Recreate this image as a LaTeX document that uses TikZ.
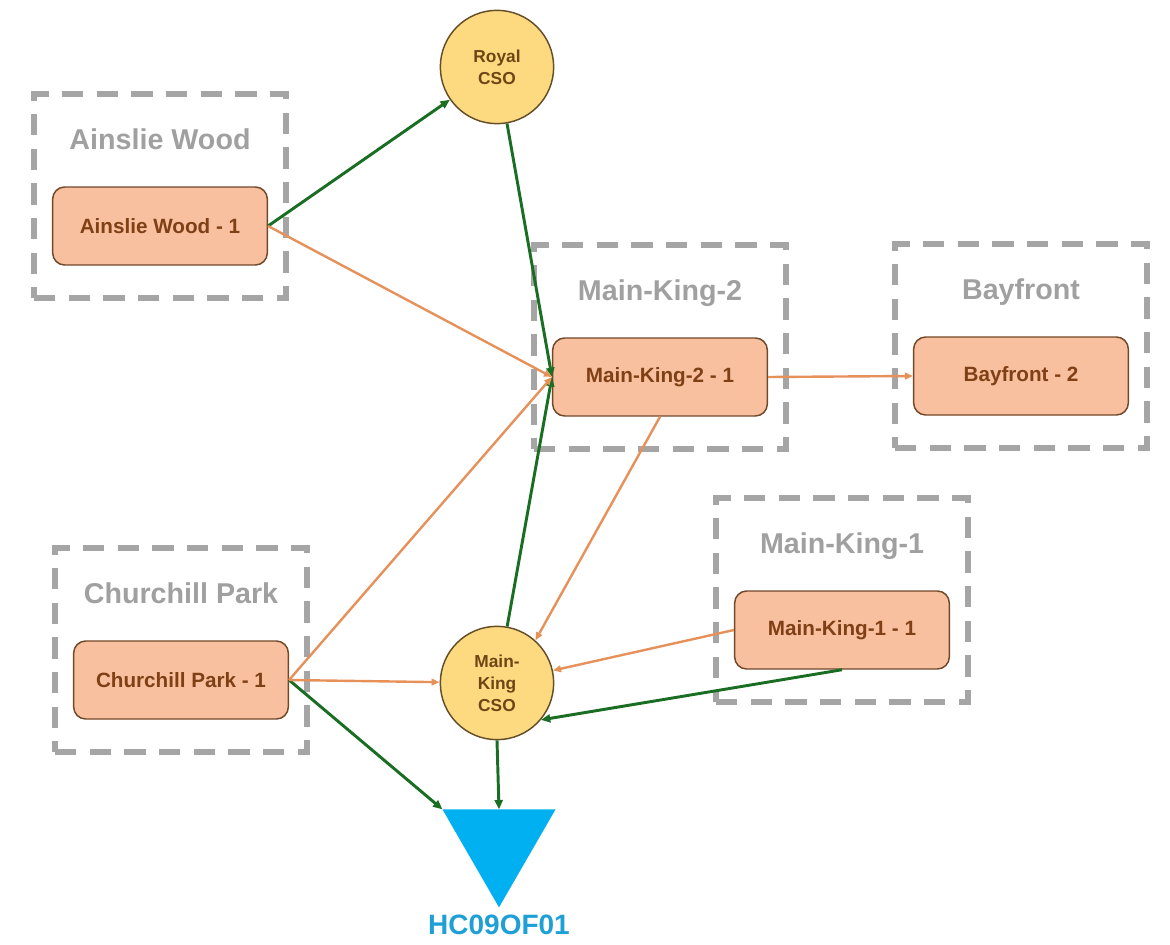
\documentclass[tikz,border=0pt]{standalone}
\usepackage{fontspec}
\setmainfont{Liberation Sans}
\usetikzlibrary{shapes}
\usetikzlibrary{positioning}
\usetikzlibrary{arrows.meta}
\definecolor{grpgray}{RGB}{165,165,165}
\definecolor{grptext}{RGB}{160,160,160}
\definecolor{sitefill}{RGB}{248,192,158}
\definecolor{siteline}{RGB}{112,72,42}
\definecolor{sitetext}{RGB}{128,64,22}
\definecolor{csofill}{RGB}{253,218,128}
\definecolor{csoline}{RGB}{100,78,40}
\definecolor{csotext}{RGB}{110,70,22}
\definecolor{outblue}{RGB}{0,176,240}
\definecolor{outtext}{RGB}{30,160,215}
\definecolor{flowgreen}{RGB}{25,110,35}
\definecolor{floworange}{RGB}{230,145,90}
\tikzset{
    grpbox/.style = {rectangle, draw=grpgray, line width=4.5pt, dash pattern=on 16pt off 10pt, minimum width=189pt, minimum height=153pt},
    grptitle/.style = {anchor=base, text=grptext, font=\bfseries\fontsize{21.5}{26}\selectfont},
    sitenode/.style = {rectangle, rounded corners=9pt, draw=siteline, line width=1.1pt, fill=sitefill, minimum width=161pt, minimum height=58.5pt, text=sitetext, font=\bfseries\fontsize{15.5}{18}\selectfont},
    csonode/.style = {circle, draw=csoline, line width=1.1pt, fill=csofill, minimum size=85pt, inner sep=0pt, align=center, text=csotext, font=\bfseries\fontsize{13}{16.5}\selectfont},
    outnode/.style = {regular polygon, regular polygon sides=3, shape border rotate=180, fill=outblue, minimum size=98pt, inner sep=0pt, outer sep=0pt},
    outlabel/.style = {text=outtext, font=\bfseries\fontsize{21}{25}\selectfont},
    edgeg/.style = {-{Triangle[length=7pt,width=6pt]}, line width=2.2pt, flowgreen}, % overflow
    edgeo/.style = {-{Triangle[length=6pt,width=5pt]}, line width=1.8pt, floworange}, % sewer
}
\begin{document}
\begin{tikzpicture}[x=0.75pt, y=-0.75pt]
  \useasboundingbox (0,0) rectangle (1170,945);
  % catchment groups
  \node[grpbox] (gaw) at (160,196) {};
  \node[grpbox] (gmk2) at (660,347) {};
  \node[grpbox] (gbf) at (1021,346) {};
  \node[grpbox] (gmk1) at (842,600) {};
  \node[grpbox] (gcp) at (181,650) {};
  \node[grptitle] (taw) at ([yshift=-44pt]gaw.north) {Ainslie Wood};
  \node[grptitle] (tmk2) at ([yshift=-44pt]gmk2.north) {Main-King-2};
  \node[grptitle] (tbf) at ([yshift=-44pt]gbf.north) {Bayfront};
  \node[grptitle] (tmk1) at ([yshift=-44pt]gmk1.north) {Main-King-1};
  \node[grptitle] (tcp) at ([yshift=-44pt]gcp.north) {Churchill Park};
  % subcatchments
  \node[sitenode] (aw1) at ([yshift=-22.5pt]gaw.center) {Ainslie Wood - 1};
  \node[sitenode] (mk21) at ([yshift=-22.5pt]gmk2.center) {Main-King-2 - 1};
  \node[sitenode] (bf2) at ([yshift=-22.5pt]gbf.center) {Bayfront - 2};
  \node[sitenode] (mk11) at ([yshift=-22.5pt]gmk1.center) {Main-King-1 - 1};
  \node[sitenode] (cp1) at ([yshift=-22.5pt]gcp.center) {Churchill Park - 1};
  % overflows and outfall
  \node[csonode] (royal) at (497,67) {Royal\\CSO};
  \node[csonode] (mkcso) at (497,683) {Main-\\King\\CSO};
  \node[outnode] (outfall) at (499,842) {};
  \node[outlabel, below=2pt of outfall.south] (hc) {HC09OF01};
  % links
  \draw[edgeg] (aw1.east) -- (royal);
  \draw[edgeg] (royal) -- (mk21.west);
  \draw[edgeg] (mkcso) -- (mk21.west);
  \draw[edgeg] (mk11.south) -- (mkcso.-40);
  \draw[edgeg] (cp1.east) -- (outfall.corner 3);
  \draw[edgeg] (mkcso.south) -- (outfall.north);
  \draw[edgeo] (aw1.east) -- (mk21.west);
  \draw[edgeo] (cp1.east) -- (mk21.west);
  \draw[edgeo] (cp1.east) -- (mkcso);
  \draw[edgeo] (mk21.south) -- (mkcso.48);
  \draw[edgeo] (mk11.west) -- (mkcso);
  \draw[edgeo] (mk21.east) -- (bf2.west);
\end{tikzpicture}
\end{document}
